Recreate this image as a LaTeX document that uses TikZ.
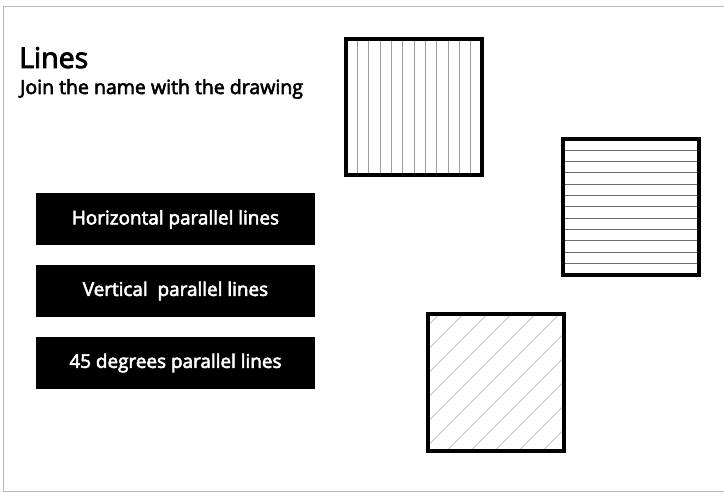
\documentclass[tikz,border=0pt]{standalone}
\usepackage{fontspec}
\setmainfont{Open Sans}[BoldFont={Open Sans}, BoldFeatures={FakeBold=3}]
\usetikzlibrary{calc, backgrounds}

\begin{document}
\begin{tikzpicture}[
    x=1pt, y=-1pt,
    namebox/.style  = {rectangle, fill=black, text=white, inner sep=0pt,
                       minimum width=279pt, minimum height=52pt,
                       font=\fontsize{18.9}{21}\selectfont\bfseries, align=center},
    hatchbox/.style = {rectangle, draw=black, line width=4pt, inner sep=0pt,
                       outer sep=0pt, minimum size=136pt},
    hatch/.style    = {line width=1pt},
]
\useasboundingbox (0,0) rectangle (724,492);

%% ---- Slide frame ----
\draw[gray!55, line width=1pt] (3,7) rectangle (740,491);

%% ---- Title ----
\node[anchor=base west, inner sep=0pt, font=\fontsize{28.5}{32}\selectfont\bfseries]
    (title) at (19,68) {Lines};
\node[anchor=base west, inner sep=0pt, font=\fontsize{19.5}{22}\selectfont\bfseries]
    (subtitle) at (20,94) {Join the name with the drawing};

%% ---- Names ----
\node[namebox] (horiz) at (175.5,219.5) {Horizontal parallel lines};
\node[namebox] (vert)  at (175.5,291)   {Vertical\ \ parallel lines};
\node[namebox] (diag)  at (175.5,363)   {45 degrees parallel lines};

%% ---- Drawings ----
\node[hatchbox] (vsq) at (414,107) {};
\node[hatchbox] (hsq) at (630.5,207) {};
\node[hatchbox] (dsq) at (496,382.5) {};

\begin{scope}[on background layer]
    % vertical lines
    \foreach \i in {1,...,11}
        \draw[hatch, gray!75] ($(vsq.north west)!\i/12!(vsq.north east)$)
            -- ($(vsq.south west)!\i/12!(vsq.south east)$);
    % horizontal lines
    \foreach \i in {1,...,11}
        \draw[hatch, gray!85!black] ($(hsq.north west)!\i/12!(hsq.south west)$)
            -- ($(hsq.north east)!\i/12!(hsq.south east)$);
    % 45 degree lines
    \clip (dsq.north west) rectangle (dsq.south east);
    \foreach \t in {0,...,11}
        \draw[hatch, gray!45] ($(dsq.north west)+(11+24*\t,0)$) -- ++(-160,160);
\end{scope}

\end{tikzpicture}
\end{document}
